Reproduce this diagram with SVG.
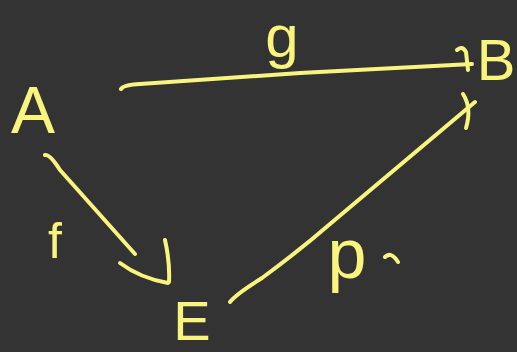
<svg xmlns="http://www.w3.org/2000/svg" width="517" height="352" viewBox="0 0 517 352">
<style>
.s{fill:none;stroke:#f8f47e;stroke-width:4;stroke-linecap:round;stroke-linejoin:round}
.t{fill:#f8f47e;font-family:"Liberation Sans","DejaVu Sans",sans-serif;text-anchor:middle}
</style>
<rect width="517" height="352" fill="#333333"/>
<g id="connectors">
<g id="edge-g">
<path class="s" d="M121,89 Q123,85 140,84 L300,73 L472,64"/>
<path class="s" d="M457,50 Q462,45 466,52 L468,70"/>
</g>
<g id="edge-f">
<path class="s" d="M45,155 Q50,154 60,170 L135,254"/>
<path class="s" d="M120,263 Q140,278 168,283"/>
<path class="s" d="M165,240 Q170,262 169,282"/>
</g>
<g id="edge-p">
<path class="s" d="M230,302 Q236,294 262,278 Q300,250 330,224 L475,102"/>
<path class="s" d="M463,94 Q472,108 466,128"/>
</g>
<path class="s" d="M385,257 Q391,251 398,262" stroke-width="3"/>
</g>
<g id="node-A"><text class="t" x="33" y="133" font-size="66">A</text></g>
<g id="node-B"><text class="t" x="496" y="80" font-size="58">B</text></g>
<g id="node-E"><text class="t" x="192" y="340" font-size="56">E</text></g>
<g id="label-g"><text class="t" x="282" y="57" font-size="60">g</text></g>
<g id="label-f"><text class="t" x="55" y="258" font-size="50">f</text></g>
<g id="label-p"><text class="t" x="347" y="278" font-size="70">p</text></g>
</svg>
